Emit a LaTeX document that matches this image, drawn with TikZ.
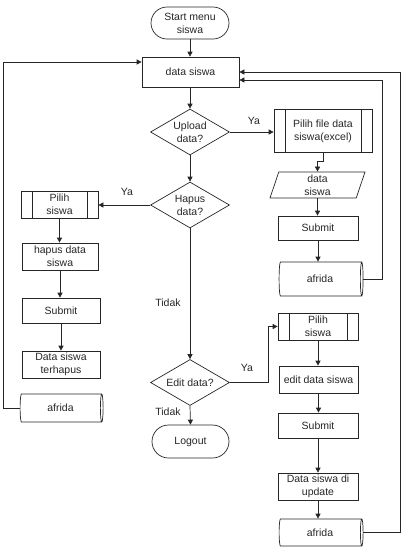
\documentclass[tikz,border=0pt]{standalone}
\usepackage{fontspec}
\setmainfont{Liberation Sans}
\usetikzlibrary{shapes.geometric,shapes.misc,arrows.meta}
\begin{document}
\begin{tikzpicture}[x=1pt,y=-1pt,
  every node/.style={font=\fontsize{10.5}{13}\selectfont, align=center, inner sep=1pt, text=black!85},
  line/.style={draw=black!85, line width=0.7pt},
  arr/.style={line, -{Triangle[length=5pt,width=5pt]}},
  box/.style={draw=black!85, line width=0.7pt, rectangle},
  term/.style={draw=black!85, line width=0.7pt, rounded rectangle},
  dec/.style={draw=black!85, line width=0.7pt, diamond, aspect=1.7, minimum width=79, minimum height=46, inner sep=0pt},
  predef/.style={box, path picture={\draw[line width=0.7pt, black!85]
      ([xshift=11pt]path picture bounding box.north west) -- ([xshift=11pt]path picture bounding box.south west)
      ([xshift=-11pt]path picture bounding box.north east) -- ([xshift=-11pt]path picture bounding box.south east);}},
  io/.style={draw=black!85, line width=0.7pt, trapezium, trapezium left angle=67, trapezium right angle=113, trapezium stretches body, minimum width=95, minimum height=26, inner sep=0pt},
  db/.style={draw=black!85, line width=0.7pt, cylinder, aspect=0.28},
  lbl/.style={inner sep=0pt}
]
\useasboundingbox (0,0) rectangle (405,547);

\node[term, minimum width=80, minimum height=32] (st) at (190,23) {Start menu\\siswa};
\node[box, minimum width=97, minimum height=30] (ds) at (190.5,72) {data siswa};
\node[dec] (up) at (190,132) {Upload\\data?};
\node[predef, minimum width=98, minimum height=43] (pf) at (323,131) {Pilih file data\\siswa(excel)};
\node[io] (din) at (317.5,185) {data\\siswa};
\node[box, minimum width=80, minimum height=24] (s1) at (318,228) {Submit};
\node[db, minimum height=84, minimum width=34] (a1) at (320,279) {afrida};

\node[dec] (hp) at (190,205) {Hapus\\data?};
\node[predef, minimum width=77, minimum height=27] (ps1) at (59.5,204.5) {Pilih\\siswa};
\node[box, minimum width=76, minimum height=27] (hd) at (60,256.5) {hapus data\\siswa};
\node[box, minimum width=78, minimum height=25] (s2) at (61,310.5) {Submit};
\node[box, minimum width=78, minimum height=27] (dt) at (61,364.5) {Data siswa\\terhapus};
\node[db, minimum height=83, minimum width=28] (a3) at (60.5,408) {afrida};

\node[dec] (ed) at (190,382.5) {Edit data?};
\node[term, minimum width=79, minimum height=33] (lo) at (190.5,441.5) {Logout};

\node[predef, minimum width=80, minimum height=27] (ps2) at (318,326.5) {Pilih\\siswa};
\node[box, minimum width=79, minimum height=27] (es) at (318.5,379.5) {edit data siswa};
\node[box, minimum width=80, minimum height=25] (s3) at (318,425.5) {Submit};
\node[box, minimum width=80, minimum height=27] (du) at (318,486.5) {Data siswa di\\update};
\node[db, minimum height=84, minimum width=27] (a2) at (320,532.5) {afrida};

\node[lbl] (y1) at (254,121) {Ya};
\node[lbl] (y2) at (127,192) {Ya};
\node[lbl] (t1) at (168,303) {Tidak};
\node[lbl] (y3) at (247,368) {Ya};
\node[lbl] (t2) at (168,412) {Tidak};

\coordinate (xL) at (3,0);
\coordinate (xR1) at (382,0);
\coordinate (xR2) at (400,0);
\coordinate (xE) at (268,0);

\draw[arr] (st.south) -- (st.south |- ds.north);
\draw[arr] (ds.south) -- (ds.south -| up.north) -- (up.north);
\draw[arr] (up.east) -- (up.east -| pf.west);
\draw[arr] (pf.south) -- ++(0,8) -| (din.north);
\draw[arr] (din.south) -- (din.south |- s1.north);
\draw[arr] (s1.south) -- (s1.south |- a1.north);
\draw[arr] (a1.east) -- (a1.east -| xR1) |- ([yshift=-8pt]ds.east);
\draw[arr] (a2.east) -- (a2.east -| xR2) |- (ds.east);

\draw[arr] (up.south) -- (hp.north);
\draw[arr] (hp.west) -- (hp.west -| ps1.east);
\draw[arr] (ps1.south) -- (ps1.south |- hd.north);
\draw[arr] (hd.south) -- (hd.south |- s2.north);
\draw[arr] (s2.south) -- (s2.south |- dt.north);
\draw[arr] (a3.west) -- (a3.west -| xL) |- ([yshift=10pt]ds.west);

\draw[arr] (hp.south) -- (ed.north);
\draw[arr] (ed.south) -- (lo.north);
\draw[arr] (ed.east) -- (ed.east -| xE) |- (ps2.west);
\draw[arr] (ps2.south) -- (ps2.south |- es.north);
\draw[arr] (es.south) -- (es.south |- s3.north);
\draw[arr] (s3.south) -- (s3.south |- du.north);
\draw[arr] (du.south) -- (du.south |- a2.north);
\end{tikzpicture}
\end{document}
